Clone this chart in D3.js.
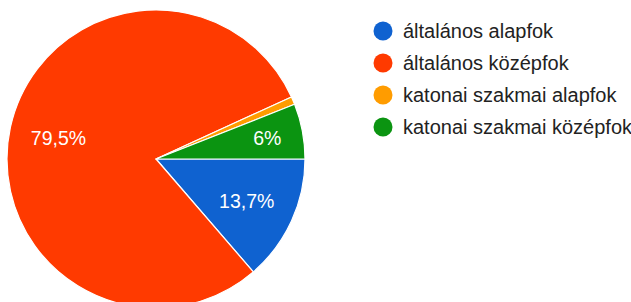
<!DOCTYPE html>
<html><head><meta charset="utf-8">
<script src="https://cdn.jsdelivr.net/npm/d3@7"></script>
<style>body{margin:0;background:#fff;overflow:hidden}</style>
</head><body>
<svg id="chart" width="631" height="302"></svg>
<script>
const categories = ["általános alapfok", "általános középfok", "katonai szakmai alapfok", "katonai szakmai középfok"];
const counts = [16, 93, 1, 7];
const percentLabels = ["13,7%", "79,5%", "0,9%", "6%"];
const colors = ["#0f62d0", "#ff3a00", "#ff9c00", "#0b9411"];

const W = 631, H = 302;
const cx = 156, cy = 159, R = 149;
const svg = d3.select("#chart");
const font = "Arial, 'Liberation Sans', sans-serif";

const data = categories.map((c, i) => ({cat: c, value: counts[i], label: percentLabels[i], color: colors[i]}));
const total = d3.sum(counts);

const pie = d3.pie().value(d => d.value).sort(null)
  .startAngle(Math.PI / 2).endAngle(Math.PI / 2 + 2 * Math.PI);
const arcs = pie(data);
const arc = d3.arc().innerRadius(0).outerRadius(R);

const g = svg.append("g").attr("transform", `translate(${cx},${cy})`);
g.selectAll("path.slice").data(arcs).join("path")
  .attr("class", "slice")
  .attr("d", arc)
  .attr("fill", d => d.data.color)
  .attr("stroke", "#fff")
  .attr("stroke-width", 1.2)
  .attr("stroke-linejoin", "round");

g.selectAll("text.pct").data(arcs.filter(d => d.data.value / total >= 0.05)).join("text")
  .attr("class", "pct")
  .attr("transform", d => {
    const frac = d.data.value / total;
    const lr = R * (frac < 0.1 ? 0.76 : 0.67);
    const a = (d.startAngle + d.endAngle) / 2;
    return `translate(${lr * Math.sin(a)},${-lr * Math.cos(a)})`;
  })
  .attr("text-anchor", "middle")
  .attr("dy", "0.36em")
  .attr("fill", "#fff")
  .style("font-family", font)
  .style("font-size", "19.5px")
  .text(d => d.data.label);

const leg = svg.append("g").attr("transform", "translate(383,31)");
const rows = leg.selectAll("g").data(data).join("g")
  .attr("transform", (d, i) => `translate(0,${i * 32})`);
rows.append("circle").attr("r", 9.5).attr("fill", d => d.color);
rows.append("text").attr("x", 20).attr("dy", "0.34em")
  .attr("fill", "#222")
  .style("font-family", font)
  .style("font-size", "20px")
  .text(d => d.cat);
</script>
</body></html>
